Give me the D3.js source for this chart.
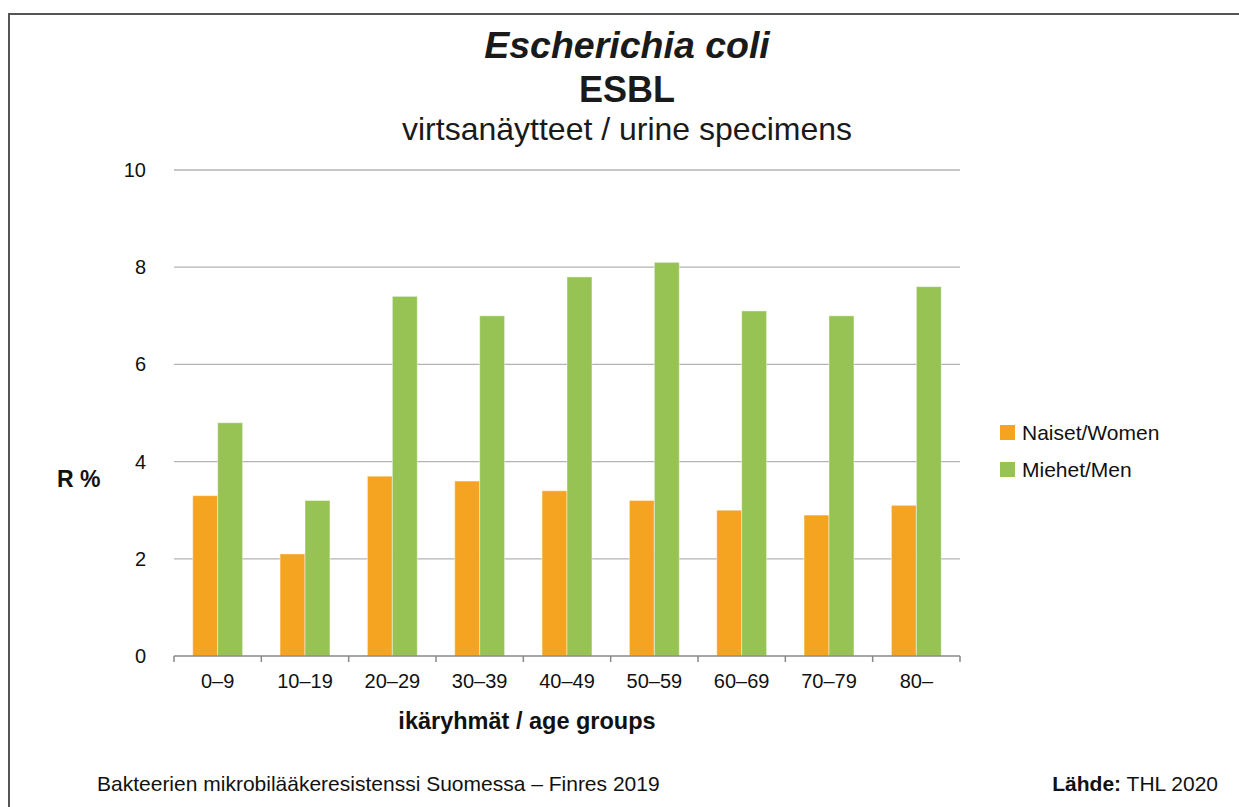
<!DOCTYPE html>
<head>
    <meta charset='utf-8'>
    <title>Escherichia coli ESBL</title>
    <script src='https://d3js.org/d3.v7.min.js'></script>
    <style>
        html, body {
            margin: 0px;
            padding: 0px;
            background: white;
        }
        svg {
            display: block;
            font-family: Arial, 'Liberation Sans', sans-serif;
        }
    </style>
</head>
<body>
    <div id='chart'></div>
    <script>
        // data
        var ageGroups = ['0–9', '10–19', '20–29', '30–39', '40–49', '50–59', '60–69', '70–79', '80–'];
        var women = [3.3, 2.1, 3.7, 3.6, 3.4, 3.2, 3.0, 2.9, 3.1];
        var men = [4.8, 3.2, 7.4, 7.0, 7.8, 8.1, 7.1, 7.0, 7.6];
        var seriesNames = ['Naiset/Women', 'Miehet/Men'];
        var seriesColors = ['#f5a422', '#97c354'];
        var yTicks = [0, 2, 4, 6, 8, 10];

        var width = 1239, height = 807;
        var plotLeft = 174, plotRight = 960, plotTop = 170, plotBottom = 656;

        var svg = d3.select('#chart').append('svg')
            .attr('width', width)
            .attr('height', height);

        // outer frame (only left and top edges visible)
        svg.append('path')
            .attr('d', 'M9,807 L9,14 L1239,14')
            .attr('fill', 'none')
            .attr('stroke', '#555')
            .attr('stroke-width', 2);

        var x0 = d3.scaleBand()
            .domain(ageGroups)
            .range([plotLeft, plotRight]);

        var x1 = d3.scaleBand()
            .domain(seriesNames)
            .range([0, x0.bandwidth()])
            .paddingOuter(0.75);

        var y = d3.scaleLinear()
            .domain([0, 10])
            .range([plotBottom, plotTop]);

        // gridlines
        svg.append('g')
            .selectAll('line')
            .data(yTicks.filter(function(d) { return d > 0; }))
            .enter()
            .append('line')
            .attr('x1', plotLeft)
            .attr('x2', plotRight)
            .attr('y1', function(d) { return y(d); })
            .attr('y2', function(d) { return y(d); })
            .attr('stroke', '#b3b3b3')
            .attr('stroke-width', 1.3);

        // y axis labels
        svg.append('g')
            .selectAll('text')
            .data(yTicks)
            .enter()
            .append('text')
            .attr('x', 146)
            .attr('y', function(d) { return y(d); })
            .attr('dy', '0.35em')
            .attr('text-anchor', 'end')
            .attr('font-size', 20)
            .attr('fill', '#111')
            .text(function(d) { return d; });

        // bars
        var rows = ageGroups.map(function(g, i) {
            return {group: g, values: [women[i], men[i]]};
        });

        var groups = svg.append('g')
            .selectAll('g')
            .data(rows)
            .enter()
            .append('g')
            .attr('transform', function(d) { return 'translate(' + x0(d.group) + ',0)'; });

        groups.selectAll('rect')
            .data(function(d) {
                return d.values.map(function(v, j) { return {name: seriesNames[j], value: v, color: seriesColors[j]}; });
            })
            .enter()
            .append('rect')
            .attr('x', function(d) { return x1(d.name); })
            .attr('width', x1.bandwidth())
            .attr('y', function(d) { return y(d.value); })
            .attr('height', function(d) { return plotBottom - y(d.value); })
            .attr('fill', function(d) { return d.color; })
            .attr('stroke', 'white')
            .attr('stroke-opacity', 0.45)
            .attr('stroke-width', 1);

        // x axis
        var xAxis = svg.append('g')
            .attr('transform', 'translate(0,' + plotBottom + ')');

        xAxis.append('line')
            .attr('x1', plotLeft)
            .attr('x2', plotRight)
            .attr('stroke', '#888')
            .attr('stroke-width', 1.5);

        var edges = ageGroups.map(function(g) { return x0(g); }).concat([plotRight]);
        xAxis.selectAll('.tick')
            .data(edges)
            .enter()
            .append('line')
            .attr('class', 'tick')
            .attr('x1', function(d) { return d; })
            .attr('x2', function(d) { return d; })
            .attr('y1', 0)
            .attr('y2', 6)
            .attr('stroke', '#888')
            .attr('stroke-width', 1.5);

        xAxis.selectAll('text')
            .data(ageGroups)
            .enter()
            .append('text')
            .attr('x', function(d) { return x0(d) + x0.bandwidth() / 2; })
            .attr('y', 32)
            .attr('text-anchor', 'middle')
            .attr('font-size', 20)
            .attr('fill', '#111')
            .text(function(d) { return d; });

        // axis titles
        svg.append('text')
            .attr('x', 57)
            .attr('y', 487)
            .attr('font-size', 23)
            .attr('font-weight', 'bold')
            .attr('fill', '#111')
            .text('R %');

        svg.append('text')
            .attr('x', 527)
            .attr('y', 729)
            .attr('text-anchor', 'middle')
            .attr('font-size', 23.5)
            .attr('font-weight', 'bold')
            .attr('fill', '#111')
            .text('ikäryhmät / age groups');

        // titles
        svg.append('text')
            .attr('x', 627)
            .attr('y', 58)
            .attr('text-anchor', 'middle')
            .attr('font-size', 37.5)
            .attr('font-weight', 'bold')
            .attr('font-style', 'italic')
            .attr('fill', '#1a1a1a')
            .text('Escherichia coli');

        svg.append('text')
            .attr('x', 627)
            .attr('y', 102)
            .attr('text-anchor', 'middle')
            .attr('font-size', 36)
            .attr('font-weight', 'bold')
            .attr('fill', '#1a1a1a')
            .text('ESBL');

        svg.append('text')
            .attr('x', 627)
            .attr('y', 140)
            .attr('text-anchor', 'middle')
            .attr('font-size', 32)
            .attr('fill', '#1a1a1a')
            .text('virtsanäytteet / urine specimens');

        // legend
        var legend = svg.append('g')
            .selectAll('g')
            .data(seriesNames)
            .enter()
            .append('g')
            .attr('transform', function(d, i) { return 'translate(1000,' + (425 + i * 37) + ')'; });

        legend.append('rect')
            .attr('width', 15)
            .attr('height', 15)
            .attr('fill', function(d, i) { return seriesColors[i]; });

        legend.append('text')
            .attr('x', 22)
            .attr('y', 8)
            .attr('dy', '0.35em')
            .attr('font-size', 21)
            .attr('fill', '#111')
            .text(function(d) { return d; });

        // footer
        svg.append('text')
            .attr('x', 97)
            .attr('y', 791)
            .attr('font-size', 21)
            .attr('fill', '#111')
            .text('Bakteerien mikrobilääkeresistenssi Suomessa – Finres 2019');

        var source = svg.append('text')
            .attr('x', 1218)
            .attr('y', 791)
            .attr('text-anchor', 'end')
            .attr('font-size', 21)
            .attr('fill', '#111');
        source.append('tspan').attr('font-weight', 'bold').text('Lähde:');
        source.append('tspan').text(' THL 2020');
    </script>
</body>
